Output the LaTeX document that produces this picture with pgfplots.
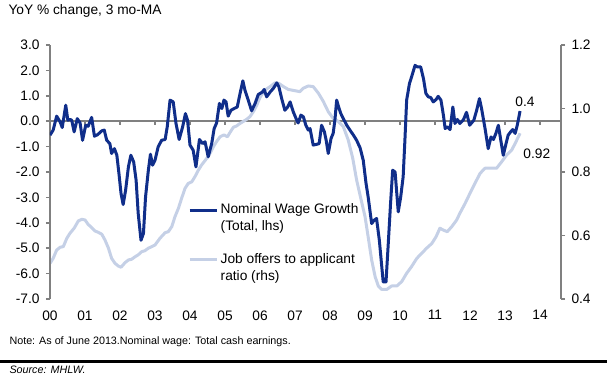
\documentclass[border=0pt]{standalone}
\usepackage{fontspec}
\setmainfont{Liberation Sans}
\usepackage{pgfplots}
\pgfplotsset{compat=1.18}
\definecolor{wagecol}{RGB}{16,46,138}
\definecolor{jobcol}{RGB}{197,208,230}
\definecolor{axgray}{RGB}{128,128,128}
\newcommand{\fs}{\fontsize{13.8}{16}\selectfont}
\newcommand{\fsn}{\fontsize{10.8}{13}\selectfont}
% x = years since Jan 2000
\pgfplotstableread{
x y
0.00 0.512
0.09 0.528
0.19 0.554
0.29 0.563
0.38 0.565
0.48 0.591
0.57 0.607
0.69 0.623
0.81 0.646
0.91 0.651
1.00 0.649
1.09 0.635
1.19 0.625
1.29 0.614
1.38 0.610
1.48 0.604
1.57 0.586
1.67 0.560
1.76 0.528
1.86 0.512
1.95 0.504
2.03 0.500
2.14 0.514
2.24 0.523
2.33 0.525
2.43 0.533
2.52 0.539
2.62 0.549
2.71 0.552
2.81 0.560
2.91 0.565
3.00 0.570
3.14 0.591
3.29 0.609
3.38 0.612
3.48 0.628
3.57 0.659
3.67 0.686
3.76 0.717
3.86 0.749
3.95 0.764
4.05 0.769
4.14 0.785
4.24 0.806
4.33 0.822
4.43 0.836
4.55 0.854
4.67 0.880
4.76 0.896
4.86 0.911
4.97 0.917
5.07 0.911
5.14 0.924
5.24 0.941
5.33 0.945
5.43 0.953
5.52 0.959
5.62 0.966
5.71 0.974
5.81 0.990
5.91 1.011
6.00 1.035
6.14 1.058
6.29 1.069
6.43 1.081
6.54 1.079
6.67 1.069
6.81 1.060
7.00 1.056
7.14 1.053
7.24 1.064
7.38 1.071
7.52 1.069
7.67 1.048
7.81 1.022
7.95 0.990
8.09 0.969
8.24 0.959
8.38 0.943
8.52 0.901
8.65 0.843
8.76 0.775
8.89 0.712
9.00 0.660
9.09 0.596
9.19 0.523
9.29 0.470
9.38 0.441
9.48 0.430
9.62 0.430
9.76 0.441
9.91 0.441
10.05 0.455
10.19 0.481
10.33 0.502
10.48 0.528
10.62 0.544
10.76 0.560
10.91 0.575
11.03 0.596
11.14 0.623
11.24 0.617
11.35 0.612
11.48 0.628
11.62 0.649
11.71 0.670
11.86 0.701
12.00 0.733
12.14 0.764
12.29 0.796
12.43 0.812
12.57 0.812
12.76 0.812
12.91 0.833
13.05 0.854
13.19 0.869
13.29 0.890
13.43 0.922
}\jobtable
\pgfplotstableread{
x y
0.00 -0.55
0.09 -0.35
0.19 0.20
0.29 -0.03
0.35 -0.25
0.45 0.63
0.51 0.04
0.57 0.07
0.62 0.04
0.69 -0.42
0.78 0.10
0.86 -0.07
0.93 -0.75
1.02 -0.16
1.09 -0.20
1.19 0.15
1.27 -0.59
1.36 -0.53
1.48 -0.38
1.55 -0.35
1.62 -0.75
1.71 -0.88
1.76 -1.27
1.84 -1.08
1.91 -1.34
1.97 -2.06
2.03 -2.85
2.09 -3.28
2.16 -2.72
2.24 -1.80
2.31 -1.34
2.39 -1.60
2.46 -2.32
2.52 -3.63
2.60 -4.69
2.67 -4.42
2.73 -2.98
2.81 -1.93
2.87 -1.30
2.93 -1.73
3.00 -1.54
3.09 -1.01
3.19 -0.75
3.29 -0.72
3.35 -0.22
3.43 0.83
3.52 0.76
3.60 -0.09
3.69 -0.72
3.79 -0.22
3.87 0.30
3.93 0.04
4.00 -0.94
4.09 -1.14
4.17 -1.80
4.27 -0.72
4.36 -0.88
4.43 -0.81
4.52 -1.40
4.62 -0.88
4.69 -0.29
4.76 -0.07
4.84 0.70
4.91 0.50
4.97 0.83
5.03 0.76
5.09 0.20
5.17 0.43
5.26 0.50
5.35 0.56
5.43 1.09
5.51 1.59
5.57 1.22
5.65 0.89
5.76 0.41
5.86 0.70
5.95 1.05
6.07 1.15
6.12 1.25
6.19 0.96
6.29 1.15
6.38 1.29
6.48 1.51
6.54 1.35
6.62 0.89
6.71 0.43
6.79 0.56
6.86 0.76
6.95 0.37
7.05 0.04
7.09 -0.07
7.17 0.24
7.24 0.17
7.31 -0.16
7.38 -0.35
7.43 -0.29
7.52 -0.94
7.62 -0.91
7.69 -0.88
7.76 -0.16
7.84 -0.42
7.89 -0.75
7.95 -1.27
8.03 -0.68
8.09 -0.48
8.14 0.04
8.19 0.83
8.26 0.50
8.31 0.30
8.38 0.10
8.48 -0.16
8.57 -0.35
8.67 -0.55
8.76 -0.75
8.86 -1.05
8.95 -1.54
9.03 -2.45
9.09 -2.98
9.19 -4.03
9.26 -3.90
9.33 -3.83
9.41 -4.69
9.48 -5.74
9.52 -6.33
9.60 -6.33
9.67 -4.69
9.73 -3.24
9.79 -1.93
9.86 -2.00
9.95 -3.57
10.02 -2.98
10.09 -2.19
10.14 -0.75
10.19 0.83
10.27 1.48
10.33 1.74
10.43 2.20
10.49 2.14
10.59 2.14
10.67 1.68
10.74 1.09
10.81 0.96
10.88 0.93
10.95 0.76
11.03 0.85
11.09 0.98
11.17 0.83
11.24 0.24
11.29 -0.29
11.35 -0.22
11.43 -0.33
11.51 0.56
11.57 -0.09
11.64 0.07
11.71 -0.09
11.81 0.05
11.90 0.35
11.99 -0.16
12.11 0.04
12.19 0.43
12.27 0.89
12.33 0.50
12.43 -0.29
12.52 -1.08
12.60 -0.62
12.67 -0.72
12.74 -0.48
12.81 -0.16
12.88 -0.75
12.95 -1.34
13.03 -0.88
13.09 -0.55
13.16 -0.42
13.22 -0.33
13.29 -0.48
13.35 -0.16
13.43 0.40
}\wagetable
\begin{document}
\begin{tikzpicture}
\useasboundingbox (0,0) rectangle (613bp,375bp);
\pgfplotsset{
  common/.style={
    at={(50bp,76bp)}, anchor=south west,
    scale only axis, width=511bp, height=254bp,
    xmin=0, xmax=14.6,
    major tick length=4bp, tick align=outside,
    y axis line style={draw=axgray, line width=1.5bp},
    ytick style={draw=axgray, line width=1.5bp},
    yticklabel style={font=\fs, /pgf/number format/fixed, /pgf/number format/fixed zerofill, /pgf/number format/precision=1, /pgf/number format/assume math mode=true},
  }
}
% right-hand axis: job offers to applicant ratio
\begin{axis}[common,
  ymin=0.4, ymax=1.2,
  axis x line=none, axis y line*=right,
  ytick={0.4,0.6,0.8,1.0,1.2},
  yticklabel style={xshift=3bp},
]
\draw[axgray, line width=2bp] (axis cs:0,0.96) -- (axis cs:14.6,0.96);
\pgfplotsinvokeforeach{1,2,3,4,5,6,7,8,9,10,11,12,13,14}{
  \draw[axgray, line width=1.5bp] (axis cs:#1,0.96) -- (axis cs:#1,0.9474);
}
\addplot[jobcol, line width=3bp, line join=round] table[x=x,y=y] {\jobtable};
\node[font=\fs] at (axis cs:13.91,0.8584) {0.92};
\end{axis}
% left-hand axis: nominal wage growth
\begin{axis}[common,
  ymin=-7, ymax=3,
  axis y line*=left, axis x line*=bottom,
  x axis line style={draw=none},
  xtick={0,1,2,3,4,5,6,7,8,9,10,11,12,13,14},
  xticklabels={00,01,02,03,04,05,06,07,08,09,10,11,12,13,14},
  xtick style={draw=none},
  xticklabel style={font=\fs, yshift=-4bp},
  ytick={-7,-6,-5,-4,-3,-2,-1,0,1,2,3},
  yticklabel style={xshift=-3bp},
  legend style={at={(0.27,0.376)}, anchor=north west, draw=none, fill=none,
    font=\fs, row sep=3.6bp, column sep=2.5bp, inner sep=0pt,
    nodes={inner sep=0pt, text height=10bp, text depth=3bp}},
  legend cell align=left,
  legend image code/.code={\draw[#1] (0bp,0bp) -- (27bp,0bp);},
]
\addplot[wagecol, line width=3bp, line join=round] table[x=x,y=y] {\wagetable};
\addlegendentry{Nominal Wage Growth}
\addlegendimage{empty legend}
\addlegendentry{(Total, lhs)}
\addlegendimage{empty legend}
\addlegendentry{}
\addlegendimage{jobcol, line width=3bp}
\addlegendentry{Job offers to applicant}
\addlegendimage{empty legend}
\addlegendentry{ratio (rhs)}
\node[font=\fs] at (axis cs:13.57,0.75) {0.4};
\end{axis}
\node[anchor=base west, font=\fs] at (5bp,360bp) {YoY \% change, 3 mo-MA};
\node[anchor=base west, font=\fsn] at (6bp,30.5bp) {Note: As of June 2013.Nominal wage: Total cash earnings.};
\draw[black, line width=3bp] (0bp,13.5bp) -- (607bp,13.5bp);
\node[anchor=base west, font=\fsn\itshape] at (6bp,1.8bp) {Source: MHLW.};
\end{tikzpicture}
\end{document}
